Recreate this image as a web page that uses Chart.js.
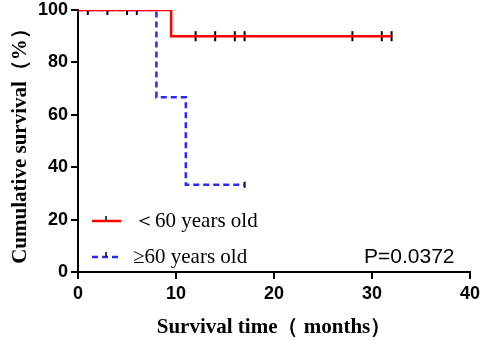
<!DOCTYPE html>
<html>
<head>
<meta charset="utf-8">
<script src="https://cdn.jsdelivr.net/npm/chart.js@4"></script>
<style>
html,body{margin:0;padding:0;background:#fff;}
#wrap{width:484px;height:340px;position:relative;}
</style>
</head>
<body>
<div id="wrap"><canvas id="c"></canvas></div>
<script>
// Kaplan-Meier step points (months, % survival)
const youngTimes = [0, 9.5, 32];
const youngSurv = [100, 90, 90];
const oldTimes = [0, 8, 11, 17];
const oldSurv = [100, 66.7, 33.3, 33.3];
// censored observations
const youngCensorTimes = [1, 3, 5, 6, 12, 14, 16, 17, 28, 31, 32];
const youngCensorSurv = [100, 100, 100, 100, 90, 90, 90, 90, 90, 90, 90];
const oldCensorTimes = [17];
const oldCensorSurv = [33.3];
// labels
const seriesLabels = ['＜60 years old', '≥60 years old'];
const pValueText = 'P=0.0372';
const xTicks = [0, 10, 20, 30, 40];
const yTicks = [0, 20, 40, 60, 80, 100];

const RED = '#ff0000', BLUE = '#2a2aff';
const zip = (xs, ys) => xs.map((x, i) => ({x, y: ys[i]}));

const legendPlugin = {
  id: 'kmLegend',
  afterDatasetsDraw(chart) {
    const ctx = chart.ctx;
    ctx.save();
    const items = [
      {y: 221, color: RED, dash: [], text: seriesLabels[0], tx: 134},
      {y: 257, color: BLUE, dash: [6, 4], text: seriesLabels[1], tx: 133}
    ];
    items.forEach(it => {
      ctx.strokeStyle = it.color;
      ctx.lineWidth = 2.5;
      ctx.setLineDash(it.dash);
      ctx.beginPath();
      ctx.moveTo(92, it.y); ctx.lineTo(121, it.y);
      ctx.stroke();
      ctx.setLineDash([]);
      ctx.strokeStyle = '#000';
      ctx.lineWidth = 1.5;
      ctx.beginPath();
      ctx.moveTo(106, it.y - 5); ctx.lineTo(106, it.y);
      ctx.stroke();
      ctx.fillStyle = '#000';
      ctx.font = '21px "Liberation Serif", "Times New Roman", serif';
      ctx.textBaseline = 'middle';
      ctx.textAlign = 'left';
      ctx.fillText(it.text, it.tx, it.y);
    });
    ctx.font = '21px "Liberation Sans", Arial, sans-serif';
    ctx.textAlign = 'left';
    ctx.fillText(pValueText, 364, 257);
    ctx.restore();
  }
};

new Chart(document.getElementById('c'), {
  type: 'scatter',
  data: {
    datasets: [
      {
        label: seriesLabels[0],
        data: zip(youngTimes, youngSurv),
        showLine: true, stepped: true,
        borderColor: RED, borderWidth: 2.5, pointRadius: 0,
        order: 1
      },
      {
        label: seriesLabels[1],
        data: zip(oldTimes, oldSurv),
        showLine: true, stepped: true,
        borderColor: BLUE, borderWidth: 2.5, borderDash: [6, 4], pointRadius: 0,
        order: 2
      },
      {
        data: zip(youngCensorTimes, youngCensorSurv),
        pointStyle: 'line', rotation: 90, radius: 5,
        borderColor: '#000', borderWidth: 2, showLine: false,
        order: 3
      },
      {
        data: zip(oldCensorTimes, oldCensorSurv),
        pointStyle: 'line', rotation: 90, radius: 3,
        borderColor: '#000', borderWidth: 2, showLine: false,
        order: 3
      }
    ]
  },
  options: {
    responsive: true,
    maintainAspectRatio: false,
    animation: false,
    layout: {padding: {top: 0, right: 0, left: 0, bottom: 0}},
    plugins: {legend: {display: false}, tooltip: {enabled: false}},
    scales: {
      x: {
        type: 'linear', min: 0, max: 40,
        afterBuildTicks: s => { s.ticks = xTicks.map(v => ({value: v})); },
        afterFit: s => { s.height = 68; s.paddingRight = 14; },
        border: {color: '#000', width: 2},
        grid: {drawOnChartArea: false, color: '#000', lineWidth: 2, tickLength: 7},
        ticks: {color: '#000', font: {family: '"Liberation Sans", Arial, sans-serif', size: 18, weight: 'bold'}, padding: 4, maxRotation: 0},
        title: {display: true, text: 'Survival time（ months）', color: '#000',
          font: {family: '"Liberation Serif", "Times New Roman", serif', size: 21, weight: 'bold'}, padding: {top: 0, bottom: 0}}
      },
      y: {
        type: 'linear', min: 0, max: 100,
        afterBuildTicks: s => { s.ticks = yTicks.map(v => ({value: v})); },
        afterFit: s => { s.width = 78; s.paddingTop = 10; },
        border: {color: '#000', width: 2},
        grid: {drawOnChartArea: false, color: '#000', lineWidth: 2, tickLength: 7},
        ticks: {color: '#000', font: {family: '"Liberation Sans", Arial, sans-serif', size: 18, weight: 'bold', lineHeight: 1}, padding: 3},
        title: {display: true, text: 'Cumulative survival（%）', color: '#000',
          font: {family: '"Liberation Serif", "Times New Roman", serif', size: 21, weight: 'bold'}, padding: {top: 8, bottom: 0}}
      }
    }
  },
  plugins: [legendPlugin]
});
</script>
</body>
</html>
